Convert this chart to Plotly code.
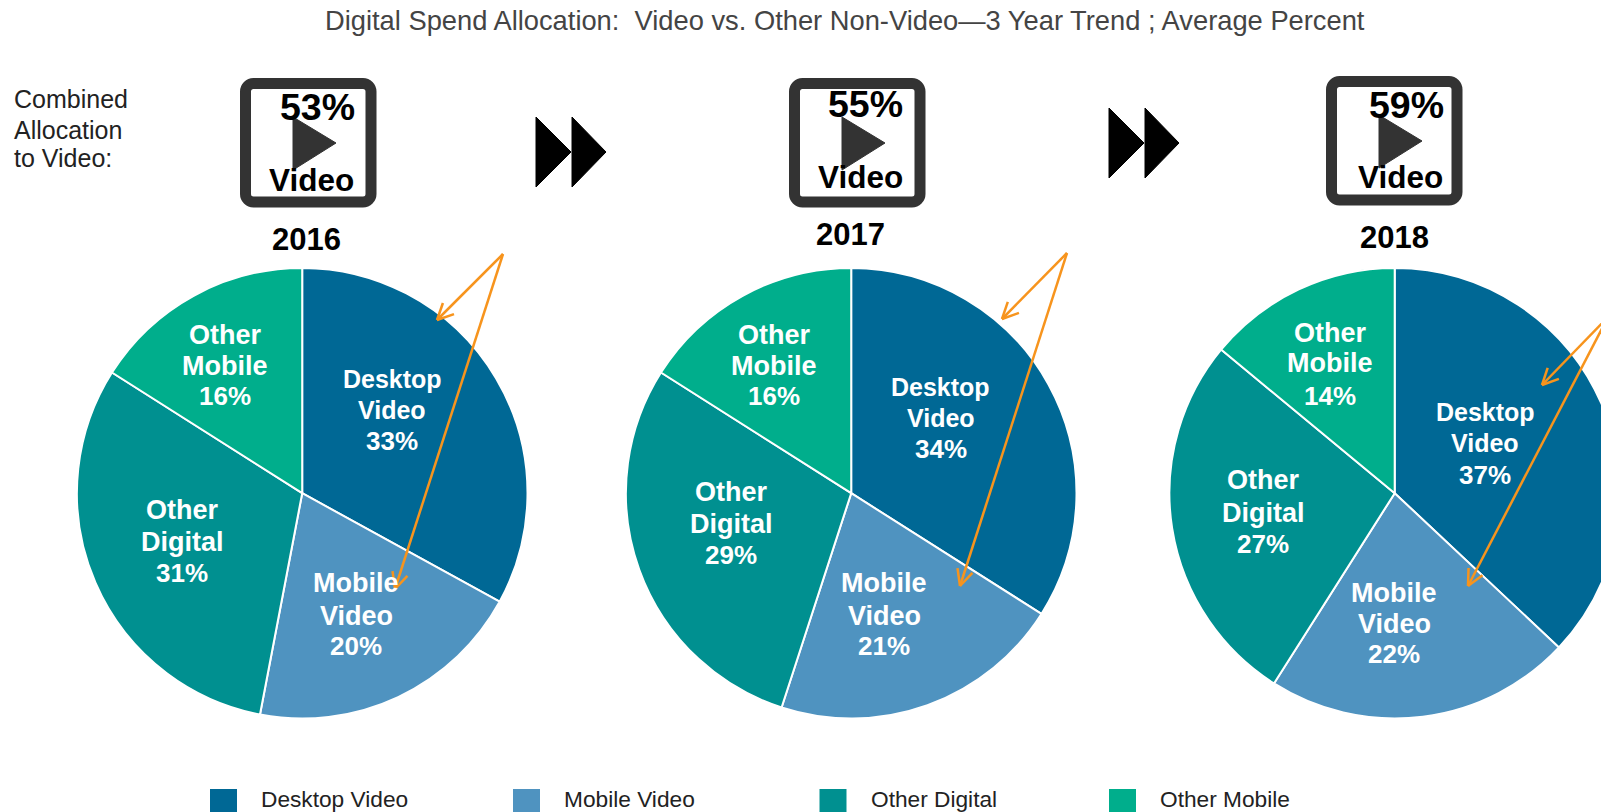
import math
import plotly.graph_objects as go

W, H = 1640, 812
FONT = "Liberation Sans"

categories = ["Desktop Video", "Mobile Video", "Other Digital", "Other Mobile"]
colors = ["#006895", "#4F93C0", "#009090", "#00AE8C"]
years = ["2016", "2017", "2018"]
values_2016 = [33, 20, 31, 16]
values_2017 = [34, 21, 29, 16]
values_2018 = [37, 22, 27, 14]
combined = ["53%", "55%", "59%"]
all_values = [values_2016, values_2017, values_2018]

pie_cx = [302.2, 851.2, 1394.7]
pie_cy = 493.2
pie_r = 225.3

year_pos = [(306, 239), (850.5, 235), (1394, 237)]
icon_pos = [(240, 78), (789, 78), (1326, 76)]
pct_off = [(77, 29), (76, 26), (80, 29)]
vid_off = [(71, 102), (71, 99), (74, 101)]

# label line centres (x, [y1,y2,y3]) per pie, per category, in full-size pixels
label_pos = [
    [(392, [379, 410, 441]), (356, [583, 616, 646]), (182, [510, 542, 573]), (225, [335, 366, 396])],
    [(941, [387, 418, 449]), (884, [583, 616, 646]), (731, [492, 524, 555]), (774, [335, 366, 396])],
    [(1485, [412, 443, 475]), (1394, [593, 624, 654]), (1263, [480, 513, 544]), (1330, [333, 363, 396])],
]
label_size = [25, 27, 27, 27]
label_lines = [["Desktop", "Video"], ["Mobile", "Video"], ["Other", "Digital"], ["Other", "Mobile"]]

arrows = [
    [((503, 254), (437, 320)), ((503, 254), (395, 589))],
    [((1067, 253), (1002, 319)), ((1067, 253), (960, 586))],
    [((1608, 317), (1542, 385)), ((1608, 317), (1468, 586))],
]
ORANGE = "#F7941D"

fig = go.Figure()
for i, vals in enumerate(all_values):
    fig.add_trace(go.Pie(
        labels=categories, values=vals, sort=False, direction="clockwise", rotation=0,
        textinfo="none", hoverinfo="label+percent", showlegend=False,
        marker=dict(colors=colors, line=dict(color="white", width=2)),
        domain=dict(
            x=[(pie_cx[i] - pie_r) / W, (pie_cx[i] + pie_r) / W],
            y=[1 - (pie_cy + pie_r) / H, 1 - (pie_cy - pie_r) / H],
        ),
    ))

def px(x):
    return x / W

def py(y):
    return 1 - y / H

annotations = []
shapes = []

def text(x, y, s, size, color="#111", bold=False, anchor="center"):
    annotations.append(dict(
        x=px(x), y=py(y), xref="paper", yref="paper", text=f"<b>{s}</b>" if bold else s,
        showarrow=False, xanchor=anchor, yanchor="middle",
        font=dict(family=FONT, size=size, color=color),
        borderpad=0, borderwidth=0,
    ))

def path_of(points):
    return "M " + " L ".join(f"{px(x)} {py(y)}" for x, y in points) + " Z"

def polygon(points, color):
    shapes.append(dict(type="path", xref="paper", yref="paper", path=path_of(points),
                       fillcolor=color, line=dict(color=color, width=1)))

def segment(a, b, color, width):
    shapes.append(dict(type="line", xref="paper", yref="paper",
                       x0=px(a[0]), y0=py(a[1]), x1=px(b[0]), y1=py(b[1]),
                       line=dict(color=color, width=width)))

def rounded_rect(x0, y0, x1, y1, r, color, width):
    k = 0.45 * r
    pts = [
        f"M {px(x0 + r)} {py(y0)}", f"L {px(x1 - r)} {py(y0)}",
        f"C {px(x1 - k)} {py(y0)} {px(x1)} {py(y0 + k)} {px(x1)} {py(y0 + r)}",
        f"L {px(x1)} {py(y1 - r)}",
        f"C {px(x1)} {py(y1 - k)} {px(x1 - k)} {py(y1)} {px(x1 - r)} {py(y1)}",
        f"L {px(x0 + r)} {py(y1)}",
        f"C {px(x0 + k)} {py(y1)} {px(x0)} {py(y1 - k)} {px(x0)} {py(y1 - r)}",
        f"L {px(x0)} {py(y0 + r)}",
        f"C {px(x0)} {py(y0 + k)} {px(x0 + k)} {py(y0)} {px(x0 + r)} {py(y0)} Z",
    ]
    shapes.append(dict(type="path", xref="paper", yref="paper", path=" ".join(pts),
                       fillcolor="rgba(0,0,0,0)", line=dict(color=color, width=width)))

# title and side label
text(845, 21, "Digital Spend Allocation:\u00a0 Video vs. Other Non-Video\u20143 Year Trend ; Average Percent", 27.3, "#444")
for y, s in zip([99, 130, 158], ["Combined", "Allocation", "to Video:"]):
    text(14, y, s, 25, "#222", anchor="left")

# video icons
for (x0, y0), pct, po, vo in zip(icon_pos, combined, pct_off, vid_off):
    rounded_rect(x0 + 5.5, y0 + 5.5, x0 + 131, y0 + 124, 8, "#333333", 11)
    polygon([(x0 + 53, y0 + 39), (x0 + 53, y0 + 92), (x0 + 96, y0 + 65)], "#333333")
    text(x0 + po[0], y0 + po[1], pct, 37.5, "#000", True)
    text(x0 + vo[0], y0 + vo[1], "Video", 31.5, "#000", True)

# fast-forward symbols
for x0, yc in [(536, 152), (1109, 143)]:
    polygon([(x0, yc - 35), (x0, yc + 35), (x0 + 35, yc)], "#000000")
    polygon([(x0 + 36, yc - 35), (x0 + 36, yc + 35), (x0 + 70, yc)], "#000000")

# years
for (x, y), yr in zip(year_pos, years):
    text(x, y, yr, 31, "#000", True)

# slice labels
for i, vals in enumerate(all_values):
    for j, v in enumerate(vals):
        x, ys = label_pos[i][j]
        lines = label_lines[j] + [f"{v}%"]
        for s, y in zip(lines, ys):
            text(x, y, s, label_size[j] if s != f"{v}%" else 26, "#FFFFFF", True)

# orange arrows
for group in arrows:
    for a, b in group:
        segment(a, b, ORANGE, 2.5)
        ang = math.atan2(a[1] - b[1], a[0] - b[0])
        for d in (-0.45, 0.45):
            segment(b, (b[0] + 18 * math.cos(ang + d), b[1] + 18 * math.sin(ang + d)), ORANGE, 2.5)

# legend
legend_x = [210, 513, 819.5, 1109]
legend_tx = [261, 564, 871, 1160]
for c, lx, tx, name in zip(colors, legend_x, legend_tx, categories):
    shapes.append(dict(type="rect", xref="paper", yref="paper", x0=px(lx), x1=px(lx + 27),
                       y0=py(812), y1=py(789), fillcolor=c, line=dict(width=0)))
    text(tx, 798.5, name, 22.7, "#222", anchor="left")

fig.update_layout(
    width=W, height=H, margin=dict(l=0, r=0, t=0, b=0, autoexpand=False),
    paper_bgcolor="white", plot_bgcolor="white", showlegend=False,
    shapes=shapes, annotations=annotations, font=dict(family=FONT),
)

fig.write_html(
    "out.html",
    config={"displayModeBar": False},
    post_script="document.body.style.margin='0';document.body.style.overflow='hidden';"
                "document.documentElement.style.overflow='hidden';",
)
